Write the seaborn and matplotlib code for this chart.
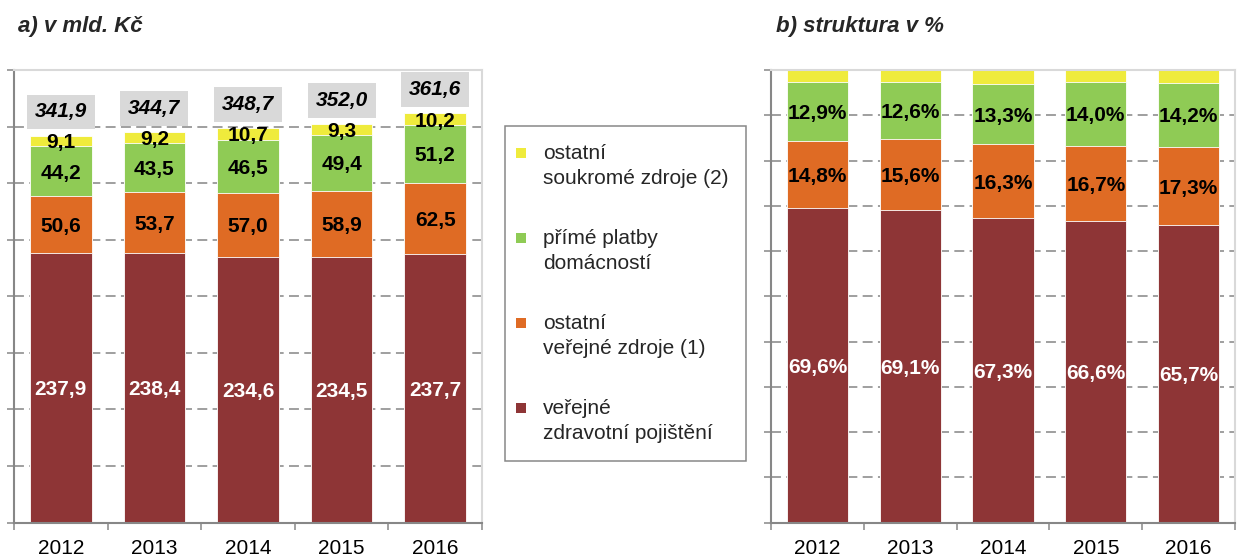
import numpy as np
import pandas as pd
import matplotlib
matplotlib.use("Agg")
import matplotlib.pyplot as plt
import seaborn as sns
from matplotlib.patches import Patch, Rectangle
from matplotlib.legend_handler import HandlerPatch

# ---------------- data ----------------
years = ["2012", "2013", "2014", "2015", "2016"]

# a) v mld. Kč
vzp = [237.9, 238.4, 234.6, 234.5, 237.7]          # veřejné zdravotní pojištění
ost_verejne = [50.6, 53.7, 57.0, 58.9, 62.5]       # ostatní veřejné zdroje (1)
prime_platby = [44.2, 43.5, 46.5, 49.4, 51.2]      # přímé platby domácností
ost_soukrome = [9.1, 9.2, 10.7, 9.3, 10.2]         # ostatní soukromé zdroje (2)
totals = [341.9, 344.7, 348.7, 352.0, 361.6]

# b) struktura v %
pct_vzp = [69.6, 69.1, 67.3, 66.6, 65.7]
pct_ost_verejne = [14.8, 15.6, 16.3, 16.7, 17.3]
pct_prime_platby = [12.9, 12.6, 13.3, 14.0, 14.2]
pct_ost_soukrome = [2.7, 2.7, 3.1, 2.7, 2.8]

series_labels = ["veřejné\nzdravotní pojištění",
                 "ostatní\nveřejné zdroje (1)",
                 "přímé platby\ndomácností",
                 "ostatní\nsoukromé zdroje (2)"]
colors = ["#8E3536", "#DF6B24", "#8FCB55", "#EFEB3C"]

# ---------------- style ----------------
sns.set_style("white")
plt.rcParams["font.family"] = ["Liberation Sans", "DejaVu Sans"]

W, H = 1238, 558
fig = plt.figure(figsize=(W / 100, H / 100), dpi=100)


def fx(px):
    return px / W


def fy(py):
    return 1 - py / H


axL = fig.add_axes([fx(14), fy(522.5), fx(482) - fx(14), fy(70) - fy(522.5)])
axR = fig.add_axes([fx(771), fy(522.5), fx(1235) - fx(771), fy(70) - fy(522.5)])

GRID = "#858585"
SPINE = "#878787"
BORDER = "#D9D9D9"
FS = 15


def fmt(v, pct=False):
    s = f"{v:.1f}".replace(".", ",")
    return s + "%" if pct else s


def stacked(ax, segs, pct, label_layers):
    segs = np.array(segs, dtype=float)
    cum = np.cumsum(segs, axis=0)
    for k in range(len(segs) - 1, -1, -1):
        df = pd.DataFrame({"rok": years, "hodnota": cum[k]})
        sns.barplot(data=df, x="rok", y="hodnota", order=years, color=colors[k],
                    saturation=1, width=0.66, errorbar=None, edgecolor="white",
                    linewidth=0.6, ax=ax)
    for k in label_layers:
        for i in range(len(years)):
            ax.text(i, cum[k][i] - segs[k][i] / 2, fmt(segs[k][i], pct),
                    ha="center", va="center_baseline", fontsize=FS,
                    fontweight="bold", color="white" if k == 0 else "black",
                    zorder=5)
    return cum


def style_axes(ax, ymax, ystep, xmax):
    ax.set_xlim(-0.5, xmax)
    ax.set_ylim(0, ymax)
    ax.set_xlabel("")
    ax.set_ylabel("")
    ax.set_axisbelow(True)
    ax.set_yticks(np.arange(0, ymax + ystep / 2, ystep))
    ax.yaxis.grid(True, color=GRID, linestyle=(0, (6.5, 3.5)), linewidth=1.1)
    ax.xaxis.grid(False)
    ax.tick_params(axis="y", which="major", left=True, length=5, width=1.1,
                   color=SPINE, direction="out", labelleft=False)
    ax.set_xticks(range(len(years)))
    ax.set_xticklabels(years)
    ax.tick_params(axis="x", which="major", length=0, pad=12, labelsize=FS,
                   labelcolor="black")
    ax.set_xticks(np.arange(-0.5, len(years), 1.0), minor=True)
    ax.tick_params(axis="x", which="minor", bottom=True, length=5, width=1.1,
                   color=SPINE, direction="out")
    for s in ("left", "bottom"):
        ax.spines[s].set_color(SPINE)
        ax.spines[s].set_linewidth(1.5)
    for s in ("top", "right"):
        ax.spines[s].set_color(BORDER)
        ax.spines[s].set_linewidth(1.5)


# a) absolute values
stacked(axL, [vzp, ost_verejne, prime_platby, ost_soukrome], False, [0, 1, 2, 3])
style_axes(axL, 400, 50, 4.5)
for i, t in enumerate(totals):
    axL.text(i, t + 21, fmt(t), ha="center", va="center", fontsize=FS,
             fontweight="bold", fontstyle="italic", color="black", zorder=6,
             bbox=dict(boxstyle="square,pad=0.38", fc="#D9D9D9", ec="none"))

# b) structure in %
stacked(axR, [pct_vzp, pct_ost_verejne, pct_prime_platby, pct_ost_soukrome], True, [0, 1, 2])
style_axes(axR, 100, 10, 4.354)

# titles
fig.text(fx(18), fy(32), "a) v mld. Kč", fontsize=16, fontweight="bold",
         fontstyle="italic", va="baseline", ha="left")
fig.text(fx(776), fy(32), "b) struktura v %", fontsize=16, fontweight="bold",
         fontstyle="italic", va="baseline", ha="left")

# legend (square marker aligned with the first line of each label)


def square(legend, orig_handle, xdescent, ydescent, width, height, fontsize):
    s = 0.48 * fontsize
    return Rectangle((-xdescent - 0.34 * fontsize, 0.73 * fontsize), s, s)


handles = [Patch(facecolor=colors[k], edgecolor="none", label=series_labels[k])
           for k in (3, 2, 1, 0)]
leg = fig.legend(handles=handles, loc="upper left",
                 bbox_to_anchor=(fx(505), fy(126)), borderaxespad=0,
                 frameon=True, fancybox=False, edgecolor=SPINE, framealpha=1,
                 fontsize=FS, handlelength=0.5, handleheight=0.7,
                 handletextpad=0.46, borderpad=0.85, labelspacing=1.97,
                 handler_map={Patch: HandlerPatch(patch_func=square)})
leg.get_frame().set_linewidth(1.1)
for t in leg.get_texts():
    t.set_linespacing(1.4)

fig.savefig("out.png", dpi=100)
